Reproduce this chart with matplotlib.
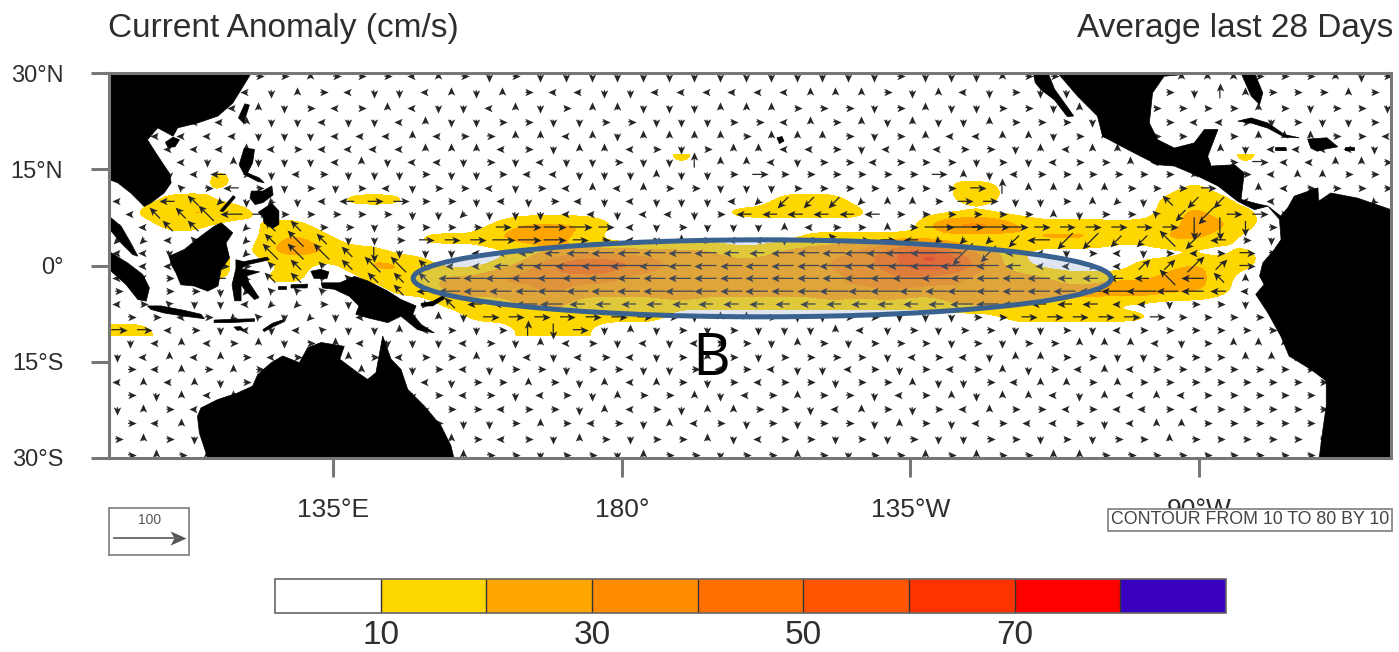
import numpy as np
from matplotlib import pyplot as plt
from matplotlib.colors import BoundaryNorm, ListedColormap
from matplotlib.markers import MarkerStyle
from matplotlib.patches import Ellipse
from matplotlib.path import Path
from matplotlib.transforms import Affine2D

plt.rcParams['font.family'] = ['Liberation Sans', 'DejaVu Sans']

# grid of the current field
lons = [101.3 + 4 * k for k in range(50)]
lats = [29.5, 27, 24.6, 22.4, 20.2, 18.2, 16.2, 14.2, 12.1, 10, 8, 6, 4, 2, 0, -2, -4, -6, -8, -10,
        -12, -14.2, -16.2, -18.2, -20.2, -22.4, -24.6, -27, -29.5]

# speed class of each grid point: 0 is under 10 cm/s, 1 is 10-20, 2 is 20-30 and so on
speed_rows = [
    '0000000000 0000000000 0000000000 0000000000 0000000000',
    '0000000000 0000000000 0000000000 0000000000 0001000000',
    '0000000000 0000000000 0000000000 0000000000 0000000000',
    '0000000000 0000000000 0000000000 0000000000 0000000000',
    '0000000000 0000000000 0000000000 0000000000 0000000000',
    '0000000000 0000000000 0000000000 0000000000 0000000000',
    '0000000000 0000000000 0010000000 0000000000 0000100000',
    '0000100000 0000000000 0000010000 0010000000 0000000000',
    '0000100000 0000000000 0000000000 0001100000 0010000000',
    '0011000001 1100000000 0000001110 0001100000 0111000000',
    '0112210000 0000000000 0000111111 0000000000 0121100000',
    '0011001100 0000012221 0000000000 0034421111 1122100000',
    '0000001210 0011122210 0000000111 1100012221 1221000000',
    '0000102221 1000001122 2222112223 4663210000 0000100000',
    '0000100101 2210012455 4322222233 4565210000 1121100000',
    '0000101100 1112233333 2222222223 3432222111 1221000000',
    '0000000000 0112222322 2232222232 3223222223 3221000000',
    '0000000000 0001112211 1111111111 1112221110 0000000000',
    '0000000000 0000111111 1100000000 0000011111 1000000000',
    '1100000000 0000001110 0000000000 0000000000 0000000000',
    '0000000000 0000000000 0000000000 0000000000 0000000000',
    '0000000000 0000000000 0000000000 0000000000 0000000000',
    '0000000000 0000000000 0000000000 0000000000 0000000000',
    '0000000000 0000000000 0000000000 0000000000 0000000000',
    '0000000000 0000000000 0000000000 0000000000 0000000000',
    '0000000000 0000000000 0000000000 0000000000 0000000000',
    '0000000000 0000000000 0000000000 0000000000 0000000000',
    '0000000000 0000000000 0000000000 0000000000 0000000000',
    '0000000000 0000000000 0000000000 0000000000 0000000000',
]

# arrow direction at each grid point: r e u q l z d c, going round from east
dir_rows = [
    'rrrrrrrurr rlurdrdddd dddddddddd rdddurrrrr uuuurrrudr',
    'lllllldurl ddludurlld dlllllluuu rduldrddrd lrduurrrur',
    'llllludrlr ulddludruu ddduuurrrd ruddrrdurd rrrrurdrrd',
    'llllluddld dluddrrddr rdddrrluru duddurrrdl urllrdrddr',
    'llllldddll lulrruulud uuuuruuurd rulluudrud rrrruuurrl',
    'lllllulrll lluuulrduu lrdruullrd lulrrduluu rluudlllld',
    'llldudddlu dlldrdlddr dduuuldrrl rrrdrdlrru ldurrlluur',
    'lldllrdlrd ddrddrlldd duddrrrrrr rrrudlrrrr rrurrluurr',
    'llqrlrdrdr ldrrldrlul urrdddrrrr rrrruuuuur rrrrulrrrr',
    'lqlqzdzdll rrrrdldrld ldddlzzzzz uurrrddruz dqzzllrduz',
    'lqqqlrrrrr rddzdddlld lldrllllll rrrrrrudrr qzzrrrrrrr',
    'llqqqzqqrr drrrrrrrrr ldrdddulrr urrrrrrrrr rrdddrrrrr',
    'zzlqzzqqqd drrrrrrrrr ldurlldrqr rlzzzzlzzz zqzlrdrrrr',
    'lldllzqqqq ddddllllll llllllllll lllzzlldrl drlrrrrrrr',
    'llllrrqqqq qqqlllllll llllllllll llllllllrl eeeerrrrrr',
    'llrdlzqqqq qqqlllllll llllllllll llllllllll lqlqudrrrr',
    'rlrrdzqqqq qqllllllll llllllllll llllllllll lllllrrrrr',
    'lrqddlzzrd ddzqllllll llllllllll llllllllll ldrrdlrrrr',
    'rrlrzqdzdl ududrrrrrr rrduurddrr dddrrrrrrr rrrrrrrrrr',
    'rrlrdldlqd dulrdrudrd udrdrdddul drdrrddrdl rrrrrrrrrr',
    'dlulrudrul dddlrdulrd ldlrrdurdr rrdrdrruuu ldruuudddd',
    'dlulurlrdu rlrrudldlr ldrurdrrrr dlrlduurrd drrruurrrr',
    'rlururlrdu rdrldrrdrr ddrlrlddlr drlrudrlul rrrrrrrrrr',
    'luludrlrdr urldrrurdu lurdrlrrdr ruddrluuru rrrrrrrrrr',
    'rdulururrd rdrlrdlrdu rrudlrurrd lruduuldul ulrrrrrrrr',
    'durlurrdrd urdrrlrrdu lrduurrdlu rdrlurrlrl lrlrrrrrrr',
    'rlurdurrlu rurddrurlr dulrdrdrrd urdlrllrdl uurrrrrrrr',
    'rurdrurdlr dururlrdur drrudlrrdr drddrrdrdr rurrrrrrrr',
    'rururrdrur rdrurrdrrd urrdrrurdr rururruurr rrrrrrrrrr',
]

# coastlines, lon/lat
asia = [(100, 30), (122.2, 30), (120.6, 27.4), (119.3, 25.3), (117, 23.3), (113.8, 22.2), (110.7, 21.45),
        (110, 20.15), (107.6, 21.45), (106, 19.6), (107.3, 17.55), (109.4, 14.4), (109.7, 12.9), (108.6, 11.3),
        (106.55, 9.76), (105.5, 9.2), (103.4, 11.3), (101.35, 12.9), (100, 13.4)]
hainan = [(108.8, 19.2), (110, 20), (111, 19.6), (110.3, 18.5), (109.2, 18.4)]
taiwan = [(120.2, 23), (121.2, 25.2), (121.9, 25), (121, 22.2)]
malaya = [(100, 7.7), (101.9, 6.1), (103.4, 3.5), (104.5, 1.45), (103.7, 1.7), (101.9, 3.5), (100.3, 5.4), (100, 5.4)]
sumatra = [(100, 2.2), (102.9, 0.4), (105.25, -1.4), (106.3, -3.5), (105.8, -5.55), (104.5, -5.3), (102.65, -2.96),
           (100, -0.6)]
borneo = [(109.4, 1.45), (111.75, 2.5), (114.35, 4.6), (116.4, 6.1), (117.5, 6.65), (119.3, 5.1), (118.25, 3.5),
          (118.8, 1.2), (117.5, -0.6), (117, -3.2), (115.4, -4), (113.3, -3.2), (111.2, -3), (110.45, -1.15),
          (109.7, 0.15)]
java = [(106, -6.3), (108.1, -6.3), (111.75, -7), (114.35, -7.6), (114.9, -8.3), (111.75, -7.9), (108.6, -7.4),
        (106.55, -6.85)]
sunda = [(116.4, -8.5), (119, -8.4), (122.7, -8.3), (122.7, -8.7), (119, -8.9), (116.4, -8.9)]
sumba = [(119.5, -9.6), (120.5, -9.5), (121, -10), (120, -10.1)]
timor = [(124, -10), (125.5, -9), (127.3, -8.4), (127.2, -8.8), (125.5, -9.6), (124.2, -10.3)]
sulawesi = [(119.8, 0.9), (121, 0.6), (124.7, 1.3), (125, 0.9), (121.5, 0.1), (120.6, -0.5), (123.5, -1),
            (121.5, -1.6), (121.8, -2.6), (123.4, -5), (122.7, -5.3), (121.2, -3.8), (120.6, -3), (120.6, -5.5),
            (119.6, -5.5), (119.2, -3), (119.8, -0.5)]
luzon = [(121.1, 18.3), (122.7, 18.1), (122.4, 16), (121.6, 14.4), (123.45, 13.65), (124.2, 12.9), (123.2, 13.1),
         (121.1, 14.2), (120.3, 15.7)]
visayas = [(122.2, 11.6), (124, 11.6), (125.4, 12.4), (125.6, 11), (124, 9.8), (122.8, 9.5), (122, 10.5)]
palawan = [(117.3, 8.5), (119.4, 10.9), (119.7, 10.6), (117.8, 8.4)]
mindanao = [(123.3, 8.3), (125.4, 9.7), (126.5, 8.5), (126.5, 6.4), (125.5, 5.8), (124.2, 6.6), (124, 7.6)]
birdshead = [(131.5, -0.9), (133, -0.6), (134.3, -1), (134, -2), (132, -2)]
new_guinea = [(133.1, -2.7), (136, -2.7), (138.3, -1.7), (140.35, -2.4), (143.5, -4), (145.55, -5.3), (147.9, -6.3),
              (147.4, -7.6), (148.7, -9.2), (150.75, -10.5), (148.15, -10), (145.55, -7.9), (143.5, -8.9),
              (140.35, -8.15), (138.5, -7.6), (139, -6.3), (137.5, -4.8), (135.15, -3.7), (133.3, -3.5)]
seram = [(128.4, -3), (131, -2.9), (130.9, -3.5), (128.4, -3.5)]
buru = [(126.4, -3.2), (127.6, -3.2), (127.6, -3.7), (126.4, -3.7)]
new_britain = [(148.7, -5.9), (150.5, -5.6), (152.3, -4.6), (152.3, -5.2), (150.5, -6.3), (148.7, -6.3)]
australia = [(115.4, -30), (114.1, -26.1), (113.8, -23.5), (114.35, -22.2), (116.95, -20.9), (120.1, -19.85),
             (122.4, -18.8), (123.2, -17), (125.3, -15.15), (127.1, -14.1), (129.7, -15.15), (131, -12.8),
             (133.1, -12), (136.7, -12.6), (136, -14.6), (138.8, -16.7), (140.35, -17.75), (141.65, -16.7),
             (142.7, -11), (144, -14.6), (145.55, -16.2), (146.6, -19.3), (149.2, -21.9), (151.8, -25),
             (153.35, -28.1), (153.8, -30)]
baja = [(244.2, 30), (246.5, 30), (247.5, 27.5), (250.5, 23.3), (249.5, 23.2), (247.5, 25.8), (245.4, 27.4),
        (244.5, 28.5)]
mexico = [(248, 30), (251.1, 26.4), (254.2, 23.3), (255, 20.15), (257.9, 18.6), (261, 17), (263.6, 15.7),
          (266.2, 15.5), (269.3, 14.2), (273, 12.4), (276.1, 10), (278.7, 8.7), (280.8, 9.25), (279.2, 9.6),
          (276.6, 10.3), (277.1, 14.4), (275.6, 15.7), (271.9, 15.5), (271.4, 17), (273, 21.2), (270.9, 21.2),
          (269.3, 19.1), (266.2, 18.3), (263.6, 19.6), (262.3, 22.2), (262.8, 26.9), (264.6, 29.5), (270.4, 30)]
florida = [(276.6, 30), (278.7, 30), (280, 26.9), (279.5, 25.1), (278.2, 26.4)]
cuba = [(276.1, 22.5), (278.2, 23), (280.8, 22.2), (283.4, 20.4), (285.7, 19.9), (283.4, 20), (280.8, 21.4),
        (278.2, 22.2)]
jamaica = [(282, 18.4), (283.6, 18.4), (283.7, 17.9), (282, 17.9)]
hispaniola = [(287, 19.7), (290, 19.9), (291.7, 18.5), (289.5, 18.1), (288.5, 17.8), (287.5, 18.3)]
puerto_rico = [(292.8, 18.4), (294.3, 18.4), (294.3, 18), (292.8, 18)]
s_america = [(280.8, 9.25), (282.8, 7.7), (283.9, 9), (284.9, 10.8), (288.6, 12.1), (288.7, 10), (290.6, 11.3),
             (294.8, 10.5), (300, 8.7), (300, -30), (288.8, -30), (289.3, -26.1), (289.9, -21.9), (289.9, -18),
             (287.5, -16.2), (284.1, -14.1), (282.8, -11), (280.8, -7.4), (278.9, -4.5), (280.2, -2.95),
             (279.5, -1.65), (280, 0.4), (281.8, 2.5), (282.85, 4.05), (282.6, 7.2)]
hawaii = [(204.2, 19.9), (205, 20.1), (205.3, 19.4), (204.6, 19)]
land = [asia, hainan, taiwan, malaya, sumatra, borneo, java, sunda, sumba, timor, sulawesi, luzon, visayas, palawan,
        mindanao, birdshead, new_guinea, seram, buru, new_britain, australia, baja, mexico, florida, cuba, jamaica,
        hispaniola, puerto_rico, s_america, hawaii]

levels = [0, 10, 20, 30, 40, 50, 60, 70, 80, 90]
colors = ['#FFFFFF', '#FFD700', '#FFA500', '#FF8C00', '#FF6F00', '#FF5500', '#FF3300', '#FF0000', '#3A00C0']
xticks = [135, 180, 225, 270]
xlabels = ['135°E', '180°', '135°W', '90°W']
yticks = [30, 15, 0, -15, -30]
ylabels = ['30°N', '15°N', '0°', '15°S', '30°S']

W, H = 1399, 652
line_col = '#777777'
text_col = '#2e2e2e'
arrow_col = '#262626'
dir_angle = dict(r=0, e=45, u=90, q=135, l=180, z=225, d=270, c=315)
head = Path([(1, 0), (-1, 0.9), (-0.5, 0), (-1, -0.9), (1, 0)], closed=True)
deg_per_cm = 0.1123


def px_axes(x0, y0, x1, y1):
    return fig.add_axes([x0 / W, 1 - y1 / H, (x1 - x0) / W, (y1 - y0) / H])


fig = plt.figure(figsize=(W / 100, H / 100), dpi=100)
ax = px_axes(109, 73, 1391, 458)

classes = np.array([[int(c) for c in row.replace(' ', '')] for row in speed_rows])
speed = np.where(classes == 0, 4.0, classes * 10 + 5.0)
dirs = [row.replace(' ', '') for row in dir_rows]

cmap = ListedColormap(colors)
norm = BoundaryNorm(levels, cmap.N)
# rows are 2 degrees apart near the equator and a little wider further north, so two images
for a, b in [(0, 6), (6, 20)]:
    step = (lats[a] - lats[b - 1]) / (b - a - 1)
    im = ax.imshow(speed[a:b], cmap=cmap, norm=norm, aspect='auto', origin='upper', zorder=1,
                   interpolation='bicubic', interpolation_stage='data',
                   extent=(lons[0] - 2, lons[-1] + 2, lats[b - 1] - step / 2, lats[a] + step / 2))

xs, ys, ang = [], [], []
sx, sy = [], []
for i, lat in enumerate(lats):
    shift = 2 if (i % 2 == 0 and abs(lat) > 6) else 0
    for k, lon in enumerate(lons):
        a = np.deg2rad(dir_angle[dirs[i][k]])
        length = speed[i, k] * deg_per_cm
        x = lon + shift - length * np.cos(a) / 2
        y = lat - length * np.sin(a) / 2
        x2 = x + length * np.cos(a)
        y2 = y + length * np.sin(a)
        sx += [x, x2, np.nan]
        sy += [y, y2, np.nan]
        xs.append(x2)
        ys.append(y2)
        ang.append(dirs[i][k])
ax.plot(sx, sy, color=arrow_col, lw=0.9, zorder=3)
xs, ys, ang = np.array(xs), np.array(ys), np.array(ang)
for code, a in dir_angle.items():
    m = ang == code
    if m.any():
        ax.scatter(xs[m], ys[m], s=36, color=arrow_col, linewidths=0, zorder=3,
                   marker=MarkerStyle(head, transform=Affine2D().rotate_deg(a)))

for poly in land:
    ax.fill(*zip(*poly), color='black', lw=0.5, zorder=5)

ax.add_patch(Ellipse((201.9, -2), 108.9, 12, facecolor=(0.55, 0.65, 0.82, 0.28), edgecolor='#3A6291', lw=3.6,
                     zorder=6))
ax.text(194, -14.7, 'B', fontsize=42, family='Open Sans', color='black', ha='center', va='center', zorder=7)

ax.set_xlim(100, 300)
ax.set_ylim(-30, 30)
ax.set_xticks(xticks, xlabels)
ax.set_yticks(yticks, ylabels)
ax.tick_params(axis='x', length=14, width=2.2, color=line_col, labelsize=19, labelcolor=text_col, pad=15)
ax.tick_params(axis='y', length=13, width=2.2, color=line_col, labelsize=17, labelcolor=text_col, pad=20)
for s in ax.spines.values():
    s.set_color(line_col)
    s.set_linewidth(2.2)
    s.set_zorder(8)

fig.text(108 / W, 1 - 28 / H, 'Current Anomaly (cm/s)', fontsize=24, color=text_col, va='center')
fig.text(1393 / W, 1 - 28 / H, 'Average last 28 Days', fontsize=24, color=text_col, va='center', ha='right')

# reference vector box
box = px_axes(109, 508, 189, 555)
box.set_xlim(109, 189)
box.set_ylim(555, 508)
box.set_xticks([])
box.set_yticks([])
for s in box.spines.values():
    s.set_color('#888888')
    s.set_linewidth(1.3)
box.text(150, 520, '100', fontsize=10, color='#555555', ha='center', va='center')
box.plot([114, 178], [538, 538], color='#666666', lw=1.3)
box.scatter([178], [538], s=130, color='#555555', linewidths=0, marker=head)

fig.text(1250 / W, 1 - 520 / H, 'CONTOUR FROM 10 TO 80 BY 10', fontsize=12.8, color='#444444', ha='center',
         va='center', zorder=10,
         bbox=dict(boxstyle='square,pad=0.15', facecolor='white', edgecolor='#888888', lw=1.3))

cax = px_axes(275, 579, 1226, 613)
cb = fig.colorbar(im, cax=cax, orientation='horizontal', ticks=[10, 30, 50, 70], drawedges=True)
cb.ax.minorticks_off()
cb.outline.set_edgecolor('#666666')
cb.outline.set_linewidth(1.2)
cb.dividers.set_color('#333333')
cb.dividers.set_linewidth(1)
cb.ax.tick_params(length=0, labelsize=24, labelcolor=text_col, pad=5)

fig.savefig('out.png', dpi=100)
